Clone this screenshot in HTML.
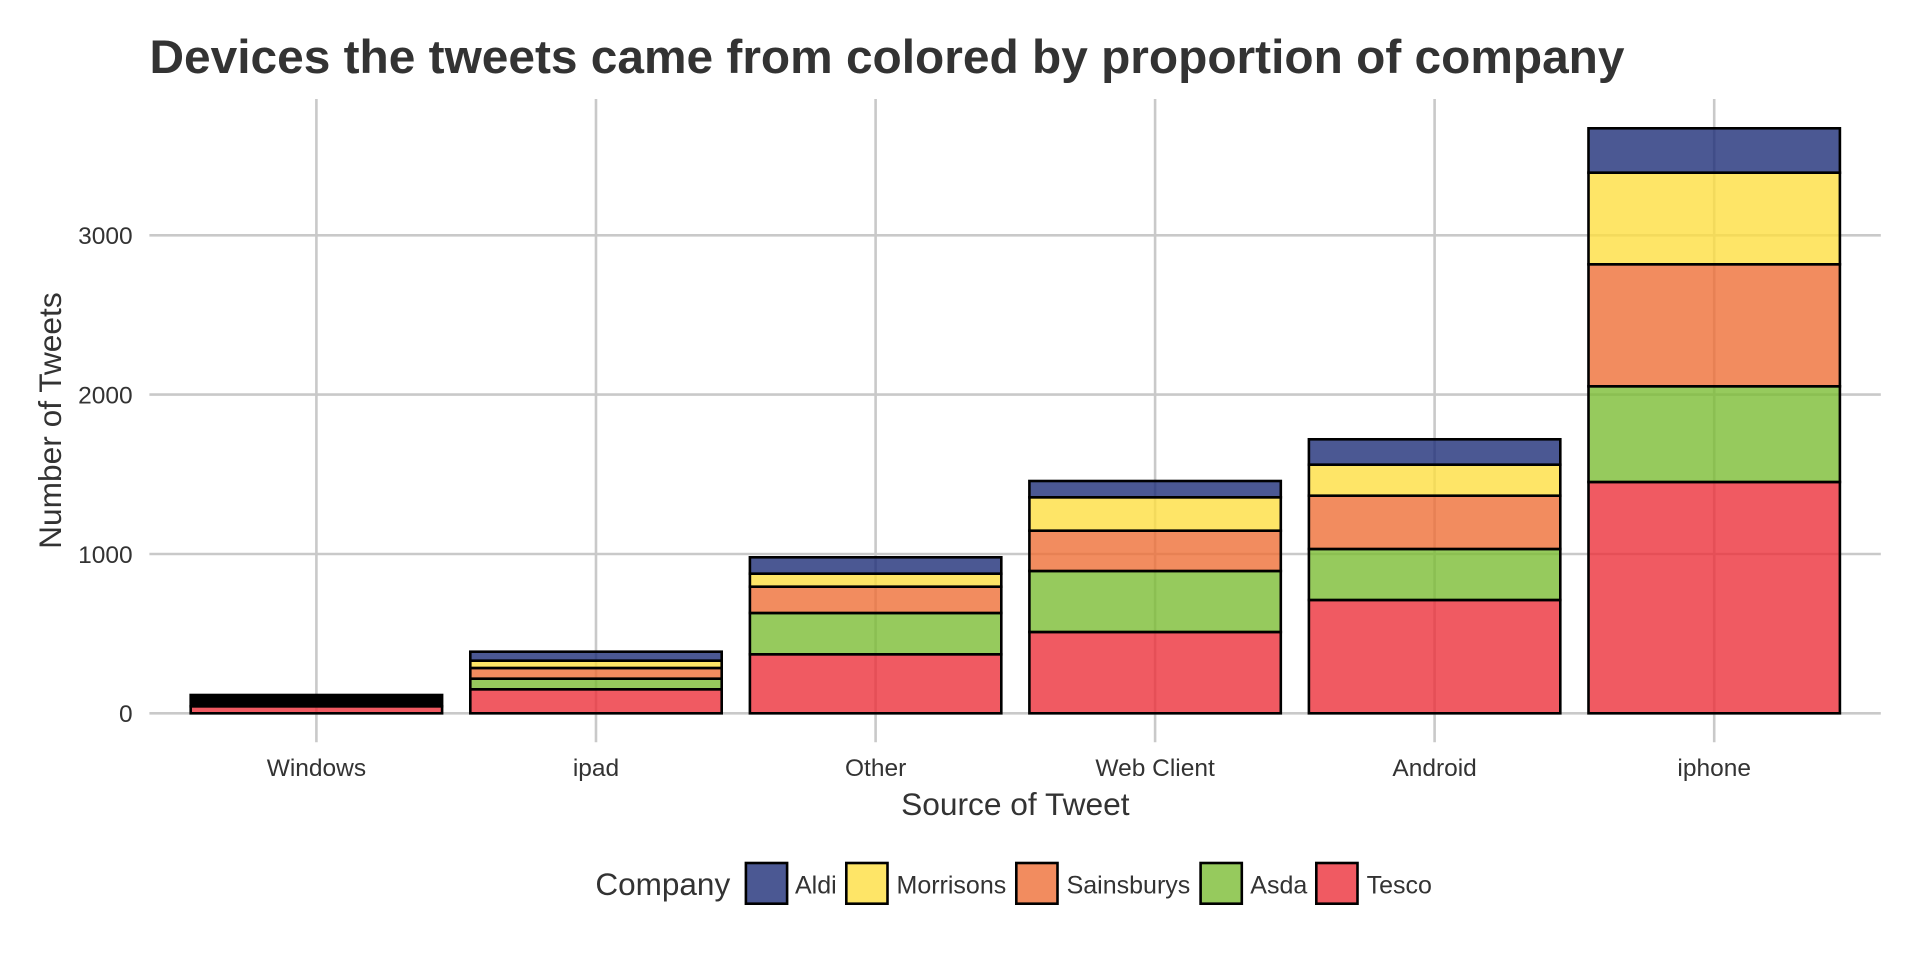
<!DOCTYPE html>
<html>
<head>
<meta charset="utf-8">
<style>
  html, body { margin: 0; padding: 0; background: #ffffff; }
  svg { display: block; }
  text { font-family: "Liberation Sans", Arial, Helvetica, sans-serif; }
</style>
</head>
<body>
<svg xmlns="http://www.w3.org/2000/svg" width="1920" height="960" viewBox="0 0 1920 960">
  <rect x="0" y="0" width="1920" height="960" fill="#ffffff"/>

  <!-- Title -->
  <text x="149.5" y="73" font-size="47.5" font-weight="bold" fill="#333333" textLength="1475" lengthAdjust="spacingAndGlyphs">Devices the tweets came from colored by proportion of company</text>

  <!-- Grid lines -->
  <g stroke="#C9C9C9" stroke-width="2.6" fill="none">
    <line x1="149.4" y1="713.3" x2="1880.8" y2="713.3"/>
    <line x1="149.4" y1="554" x2="1880.8" y2="554"/>
    <line x1="149.4" y1="394.6" x2="1880.8" y2="394.6"/>
    <line x1="149.4" y1="235.3" x2="1880.8" y2="235.3"/>
    <line x1="316.4" y1="99" x2="316.4" y2="742.3"/>
    <line x1="596.0" y1="99" x2="596.0" y2="742.3"/>
    <line x1="875.6" y1="99" x2="875.6" y2="742.3"/>
    <line x1="1155.1" y1="99" x2="1155.1" y2="742.3"/>
    <line x1="1434.6" y1="99" x2="1434.6" y2="742.3"/>
    <line x1="1714.2" y1="99" x2="1714.2" y2="742.3"/>
  </g>

  <!-- Bars -->
  <g stroke="#000000" stroke-width="2.6" fill-opacity="0.8">
    <!-- Windows -->
    <rect x="190.7" y="706.3" width="251.4" height="7" fill="#EC313B"/>
    <rect x="190.7" y="695" width="251.4" height="11.3" fill="#000000" fill-opacity="1"/>

    <!-- ipad -->
    <rect x="470.3" y="689.3" width="251.4" height="24" fill="#EC313B"/>
    <rect x="470.3" y="678.7" width="251.4" height="10.6" fill="#7CBD34"/>
    <rect x="470.3" y="668" width="251.4" height="10.7" fill="#EF6F37"/>
    <rect x="470.3" y="660.7" width="251.4" height="7.3" fill="#FEDF41"/>
    <rect x="470.3" y="651.7" width="251.4" height="9" fill="#1E2E78"/>

    <!-- Other -->
    <rect x="749.9" y="654.3" width="251.4" height="59" fill="#EC313B"/>
    <rect x="749.9" y="613" width="251.4" height="41.3" fill="#7CBD34"/>
    <rect x="749.9" y="586.7" width="251.4" height="26.3" fill="#EF6F37"/>
    <rect x="749.9" y="573.7" width="251.4" height="13" fill="#FEDF41"/>
    <rect x="749.9" y="557.3" width="251.4" height="16.4" fill="#1E2E78"/>

    <!-- Web Client -->
    <rect x="1029.4" y="632" width="251.4" height="81.3" fill="#EC313B"/>
    <rect x="1029.4" y="571" width="251.4" height="61" fill="#7CBD34"/>
    <rect x="1029.4" y="530.7" width="251.4" height="40.3" fill="#EF6F37"/>
    <rect x="1029.4" y="497.3" width="251.4" height="33.4" fill="#FEDF41"/>
    <rect x="1029.4" y="481" width="251.4" height="16.3" fill="#1E2E78"/>

    <!-- Android -->
    <rect x="1308.9" y="600" width="251.4" height="113.3" fill="#EC313B"/>
    <rect x="1308.9" y="549" width="251.4" height="51" fill="#7CBD34"/>
    <rect x="1308.9" y="495.7" width="251.4" height="53.3" fill="#EF6F37"/>
    <rect x="1308.9" y="464.7" width="251.4" height="31" fill="#FEDF41"/>
    <rect x="1308.9" y="439.3" width="251.4" height="25.4" fill="#1E2E78"/>

    <!-- iphone -->
    <rect x="1588.5" y="482" width="251.4" height="231.3" fill="#EC313B"/>
    <rect x="1588.5" y="386.3" width="251.4" height="95.7" fill="#7CBD34"/>
    <rect x="1588.5" y="264.3" width="251.4" height="122" fill="#EF6F37"/>
    <rect x="1588.5" y="172.7" width="251.4" height="91.6" fill="#FEDF41"/>
    <rect x="1588.5" y="128.3" width="251.4" height="44.4" fill="#1E2E78"/>
  </g>

  <!-- Y tick labels -->
  <g font-size="24.5" fill="#333333" text-anchor="end">
    <text x="132.7" y="722.1">0</text>
    <text x="132.7" y="562.8">1000</text>
    <text x="132.7" y="403.4">2000</text>
    <text x="132.7" y="244.1">3000</text>
  </g>

  <!-- X tick labels -->
  <g font-size="24.5" fill="#333333" text-anchor="middle">
    <text x="316.4" y="776">Windows</text>
    <text x="596.0" y="776">ipad</text>
    <text x="875.6" y="776">Other</text>
    <text x="1155.1" y="776">Web Client</text>
    <text x="1434.6" y="776">Android</text>
    <text x="1714.2" y="776">iphone</text>
  </g>

  <!-- Axis titles -->
  <text x="1015.3" y="815" font-size="31.7" fill="#333333" text-anchor="middle">Source of Tweet</text>
  <text transform="translate(61,420.6) rotate(-90)" font-size="31.7" fill="#333333" text-anchor="middle">Number of Tweets</text>

  <!-- Legend -->
  <text x="595.4" y="895" font-size="31.5" fill="#333333">Company</text>
  <g stroke="#000000" stroke-width="2.6" fill-opacity="0.8">
    <rect x="745.9" y="863" width="41.2" height="40.7" fill="#1E2E78"/>
    <rect x="846.3" y="863" width="41.2" height="40.7" fill="#FEDF41"/>
    <rect x="1016.3" y="863" width="41.2" height="40.7" fill="#EF6F37"/>
    <rect x="1200.6" y="863" width="41.2" height="40.7" fill="#7CBD34"/>
    <rect x="1316.3" y="863" width="41.2" height="40.7" fill="#EC313B"/>
  </g>
  <g font-size="25" fill="#333333">
    <text x="795" y="893.5">Aldi</text>
    <text x="896.5" y="893.5">Morrisons</text>
    <text x="1066.6" y="893.5">Sainsburys</text>
    <text x="1250.3" y="893.5">Asda</text>
    <text x="1366.6" y="893.5">Tesco</text>
  </g>
</svg>
</body>
</html>
